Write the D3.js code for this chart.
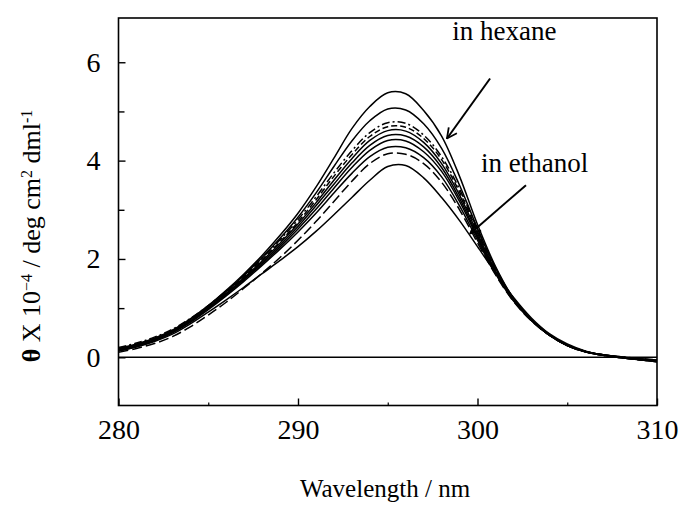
<!DOCTYPE html>
<html>
<head>
<meta charset="utf-8">
<script src="https://cdn.jsdelivr.net/npm/d3@7"></script>
<style>
  html, body { margin: 0; padding: 0; background: #fff; }
  svg { display: block; }
  text { font-family: "Liberation Serif", "DejaVu Serif", serif; fill: #000; }
</style>
</head>
<body>
<svg id="chart" width="679" height="507"></svg>
<script>
// ---------- data ----------
const wavelengths = [280,281,282,283,284,285,286,287,288,289,290,291,292,293,294,295,296,297,298,299,300,301,302,303,304,305,306,307,308,309,310];

const series1 = [0.18,0.27,0.39,0.55,0.78,1.05,1.36,1.70,2.07,2.48,2.93,3.46,4.05,4.65,5.10,5.38,5.36,5.02,4.50,3.68,2.70,1.85,1.20,0.76,0.45,0.24,0.12,0.05,0.01,-0.03,-0.06];
const series2 = [0.17,0.26,0.38,0.54,0.77,1.04,1.34,1.67,2.03,2.42,2.85,3.34,3.88,4.40,4.81,5.05,5.03,4.75,4.25,3.50,2.62,1.82,1.20,0.76,0.45,0.24,0.12,0.05,0.00,-0.03,-0.06];
const series3 = [0.20,0.29,0.41,0.57,0.79,1.05,1.35,1.67,2.02,2.39,2.80,3.26,3.75,4.20,4.57,4.77,4.76,4.52,4.08,3.42,2.60,1.80,1.20,0.78,0.47,0.25,0.12,0.05,0.01,-0.02,-0.05];
const series4 = [0.16,0.25,0.37,0.53,0.75,1.02,1.32,1.64,1.99,2.35,2.75,3.20,3.68,4.12,4.49,4.69,4.68,4.45,4.02,3.36,2.56,1.78,1.19,0.77,0.46,0.25,0.12,0.05,0.00,-0.03,-0.07];
const series5 = [0.15,0.24,0.36,0.52,0.74,1.01,1.30,1.62,1.96,2.32,2.71,3.14,3.60,4.04,4.41,4.61,4.60,4.37,3.94,3.30,2.52,1.76,1.18,0.76,0.46,0.25,0.12,0.05,0.00,-0.04,-0.08];
const series6 = [0.14,0.23,0.35,0.51,0.73,1.00,1.29,1.60,1.93,2.28,2.66,3.08,3.52,3.95,4.31,4.51,4.50,4.28,3.86,3.23,2.47,1.74,1.17,0.76,0.46,0.25,0.12,0.04,-0.01,-0.05,-0.09];
const series7 = [0.15,0.24,0.35,0.51,0.72,0.99,1.27,1.58,1.90,2.24,2.61,3.01,3.44,3.86,4.21,4.41,4.40,4.18,3.78,3.17,2.43,1.72,1.16,0.75,0.45,0.24,0.11,0.04,-0.01,-0.05,-0.09];
const series8 = [0.13,0.22,0.34,0.50,0.71,0.97,1.25,1.55,1.87,2.20,2.55,2.93,3.34,3.74,4.08,4.27,4.26,4.06,3.67,3.08,2.38,1.70,1.15,0.75,0.45,0.24,0.11,0.04,-0.01,-0.05,-0.08];
const series9 = [0.10,0.18,0.28,0.42,0.62,0.86,1.12,1.41,1.71,2.03,2.38,2.76,3.17,3.58,3.94,4.14,4.13,3.94,3.56,3.00,2.33,1.68,1.14,0.74,0.45,0.24,0.11,0.04,-0.01,-0.05,-0.09];
const series10 = [0.13,0.21,0.32,0.47,0.68,0.92,1.17,1.43,1.70,1.97,2.25,2.56,2.90,3.25,3.60,3.88,3.90,3.65,3.25,2.78,2.25,1.72,1.22,0.80,0.48,0.27,0.13,0.05,0.00,-0.04,-0.07];

const seriesList = [series1, series2, series3, series4, series5, series6, series7, series8, series9, series10];
const seriesDash = ["", "", "8,3,2,3", "6,3", "", "", "", "", "10,4", ""];

const xTicksMajor = [280, 290, 300, 310];
const xTicksMinor = [285, 295, 305];
const yTicksMajor = [0, 2, 4, 6];
const yTicksMinor = [1, 3, 5];

const xTitle = "Wavelength / nm";

// annotation labels (data units)
const labels = [
  { text: "in hexane",  x: 298.6, y: 6.45, from: [300.7, 5.67], to: [298.3, 4.45], head: true },
  { text: "in ethanol", x: 300.2, y: 3.76, from: [302.7, 3.50], to: [299.6, 2.52], head: true }
];

// ---------- layout ----------
const svg = d3.select("#chart");
const L = 118.5, R = 657, T = 18, B = 405.5;

const x = d3.scaleLinear().domain([280, 310]).range([L, R]);
const y = d3.scaleLinear().domain([-0.98, 6.9]).range([B, T]);

// frame
svg.append("rect")
  .attr("x", L).attr("y", T).attr("width", R - L).attr("height", B - T)
  .attr("fill", "none").attr("stroke", "#000").attr("stroke-width", 1.6);

// zero baseline
svg.append("line")
  .attr("x1", L).attr("x2", R).attr("y1", y(0)).attr("y2", y(0))
  .attr("stroke", "#000").attr("stroke-width", 1.6);

// x axis ticks (inward) and labels
const xAxis = d3.axisBottom(x).tickValues(xTicksMajor).tickSize(-7).tickPadding(14).tickFormat(d3.format("d"));
const gx = svg.append("g").attr("transform", `translate(0,${B})`).call(xAxis);
gx.select(".domain").remove();
gx.selectAll("line").attr("stroke", "#000").attr("stroke-width", 1.4);
gx.selectAll("text").attr("font-size", 28).attr("font-family", "Liberation Serif, serif").attr("dy", "0.71em");

const xAxisMinor = d3.axisBottom(x).tickValues(xTicksMinor).tickSize(-3).tickFormat("");
const gx2 = svg.append("g").attr("transform", `translate(0,${B})`).call(xAxisMinor);
gx2.select(".domain").remove();
gx2.selectAll("line").attr("stroke", "#000").attr("stroke-width", 1.2);

// y axis ticks (inward) and labels
const yAxis = d3.axisLeft(y).tickValues(yTicksMajor).tickSize(-7).tickPadding(18).tickFormat(d3.format("d"));
const gy = svg.append("g").attr("transform", `translate(${L},0)`).call(yAxis);
gy.select(".domain").remove();
gy.selectAll("line").attr("stroke", "#000").attr("stroke-width", 1.4);
gy.selectAll("text").attr("font-size", 28).attr("font-family", "Liberation Serif, serif");

const yAxisMinor = d3.axisLeft(y).tickValues(yTicksMinor).tickSize(-6).tickFormat("");
const gy2 = svg.append("g").attr("transform", `translate(${L},0)`).call(yAxisMinor);
gy2.select(".domain").remove();
gy2.selectAll("line").attr("stroke", "#000").attr("stroke-width", 1.4);

// curves
const line = d3.line()
  .x((d, i) => x(wavelengths[i]))
  .y(d => y(d))
  .curve(d3.curveCatmullRom.alpha(0.5));

const clipId = "plotClip";
svg.append("clipPath").attr("id", clipId)
  .append("rect").attr("x", L).attr("y", T).attr("width", R - L).attr("height", B - T);

svg.append("g").attr("clip-path", `url(#${clipId})`)
  .selectAll("path.curve")
  .data(seriesList)
  .join("path")
  .attr("class", "curve")
  .attr("d", d => line(d))
  .attr("fill", "none")
  .attr("stroke", "#000")
  .attr("stroke-width", 1.5)
  .attr("stroke-dasharray", (d, i) => seriesDash[i] || null);

// annotations
svg.append("defs").append("marker")
  .attr("id", "arrowV")
  .attr("viewBox", "0 0 12 12")
  .attr("refX", 11).attr("refY", 6)
  .attr("markerWidth", 12).attr("markerHeight", 12)
  .attr("markerUnits", "userSpaceOnUse")
  .attr("orient", "auto")
  .append("path")
  .attr("d", "M1,1 L11,6 L1,11")
  .attr("fill", "none").attr("stroke", "#000").attr("stroke-width", 1.8);

labels.forEach(lb => {
  svg.append("text")
    .attr("x", x(lb.x)).attr("y", y(lb.y))
    .attr("font-size", 27)
    .text(lb.text);
  svg.append("line")
    .attr("x1", x(lb.from[0])).attr("y1", y(lb.from[1]))
    .attr("x2", x(lb.to[0])).attr("y2", y(lb.to[1]))
    .attr("stroke", "#000").attr("stroke-width", 2)
    .attr("marker-end", lb.head ? "url(#arrowV)" : null);
});

// y axis title
const yt = svg.append("text")
  .attr("transform", "translate(40,236) rotate(-90)")
  .attr("text-anchor", "middle")
  .attr("font-size", 26);
yt.append("tspan").attr("font-weight", "bold").text("θ");
yt.append("tspan").text(" X 10");
yt.append("tspan").attr("baseline-shift", "super").attr("font-size", 16).text("−4");
yt.append("tspan").text(" / deg cm");
yt.append("tspan").attr("baseline-shift", "super").attr("font-size", 16).text("2");
yt.append("tspan").text(" dml");
yt.append("tspan").attr("baseline-shift", "super").attr("font-size", 16).text("-1");

// x axis title
svg.append("text")
  .attr("x", 385).attr("y", 497)
  .attr("text-anchor", "middle")
  .attr("font-size", 25)
  .text(xTitle);
</script>
</body>
</html>
